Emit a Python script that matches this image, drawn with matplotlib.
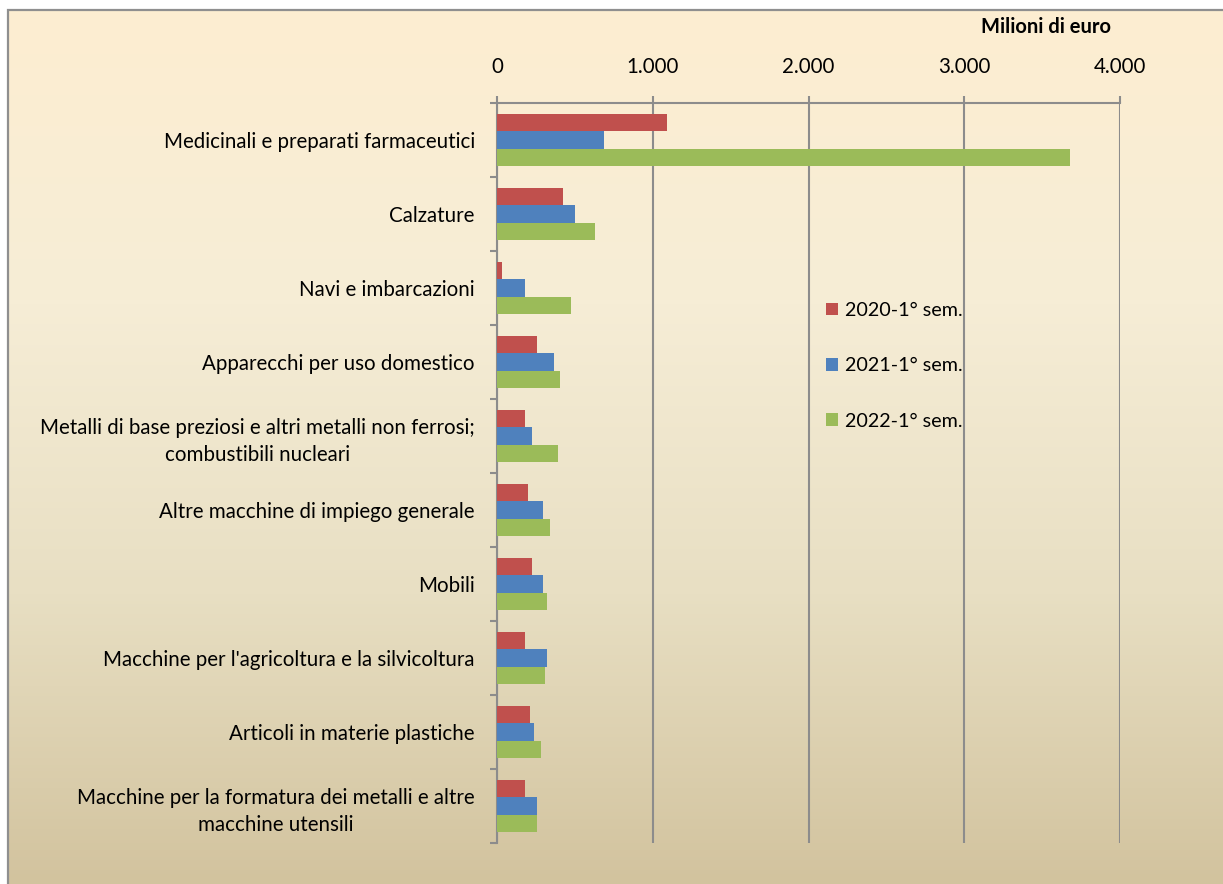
import numpy as np
import matplotlib
matplotlib.use("Agg")
import matplotlib.pyplot as plt
from matplotlib.colors import LinearSegmentedColormap
from matplotlib.patches import Rectangle
from matplotlib.ticker import FuncFormatter, FixedLocator

categories = [
    "Medicinali e preparati farmaceutici",
    "Calzature",
    "Navi e imbarcazioni",
    "Apparecchi per uso domestico",
    "Metalli di base preziosi e altri metalli non ferrosi;\ncombustibili nucleari",
    "Altre macchine di impiego generale",
    "Mobili",
    "Macchine per l'agricoltura e la silvicoltura",
    "Articoli in materie plastiche",
    "Macchine per la formatura dei metalli e altre\nmacchine utensili",
]
series_labels = ["2020-1° sem.", "2021-1° sem.", "2022-1° sem."]
v2020 = [1092, 424, 32, 257, 180, 199, 225, 180, 212, 180]
v2021 = [687, 501, 180, 366, 225, 295, 295, 321, 238, 257]
v2022 = [3680, 629, 475, 405, 392, 340, 321, 308, 283, 257]
xticks = [0, 1000, 2000, 3000, 4000]

colors = ["#C0504D", "#4F81BD", "#9BBB59"]
grid_c = "#8C8C8C"
FONT = ["Lato", "DejaVu Sans"]
plt.rcParams['font.family'] = FONT

W, H = 1223, 884
fig = plt.figure(figsize=(W / 100, H / 100), dpi=100)
fig.patch.set_facecolor("white")

# gradient background box
bx0, by_top = 8, 10
bg = fig.add_axes([bx0 / W, 0, 1 - bx0 / W, (H - by_top) / H], zorder=0)
cmap = LinearSegmentedColormap.from_list("bg", ["#FDEED1", "#F6EDD6", "#E8DFC3", "#D2C39E"])
grad = np.linspace(0, 1, 256).reshape(-1, 1)
bg.imshow(grad, aspect="auto", cmap=cmap, extent=[0, 1, 0, 1], origin="upper")
bg.set_axis_off()
fig.patches.append(Rectangle((bx0 / W, -0.01), 1.01, (H - by_top) / H + 0.01,
                             transform=fig.transFigure, fill=False,
                             edgecolor="#8F8F8F", lw=1.6, zorder=1))

ax = fig.add_axes([497 / W, 41 / H, (1120 - 497) / W, (843 - 103) / H], zorder=2)
ax.set_facecolor("none")

n = len(categories)
y = np.arange(n)
bh = 0.23
all_vals = [v2020, v2021, v2022]
for i, (vals, lab, c) in enumerate(zip(all_vals, series_labels, colors)):
    ax.barh(y + (i - 1) * bh, vals, height=bh, color=c, label=lab, zorder=3)

ax.set_xlim(0, 4000)
ax.set_ylim(n - 0.5, -0.5)
ax.xaxis.tick_top()
ax.xaxis.set_major_locator(FixedLocator(xticks))
ax.xaxis.set_major_formatter(FuncFormatter(lambda v, p: f"{int(v):,}".replace(",", ".")))
ax.tick_params(axis="x", which="major", direction="out", length=5, width=1.5,
               color=grid_c, pad=14, labelsize=14.8)
ax.grid(axis="x", color=grid_c, lw=1.5, zorder=1)

ax.set_yticks(y)
ax.set_yticklabels(categories, fontsize=14.8, multialignment="center", linespacing=1.45)
ax.yaxis.set_minor_locator(FixedLocator(np.arange(-0.5, n, 1.0)))
ax.tick_params(axis="y", which="major", length=0, pad=16)
ax.tick_params(axis="y", which="minor", direction="out", length=5, width=1.5, color=grid_c)

for s in ["right", "bottom"]:
    ax.spines[s].set_visible(False)
for s in ["left", "top"]:
    ax.spines[s].set_color(grid_c)
    ax.spines[s].set_linewidth(1.5)

fig.text(1046 / W, 1 - 27 / H, "Milioni di euro", ha="center", va="center",
         fontsize=14.5, fontweight="bold")

leg = ax.legend(loc="upper left", bbox_to_anchor=(808 / W, 1 - 284 / H),
                bbox_transform=fig.transFigure, frameon=False, fontsize=14.2,
                handlelength=0.6, handleheight=0.6, handletextpad=0.4,
                labelspacing=1.95)

fig.savefig("out.png", dpi=100)
